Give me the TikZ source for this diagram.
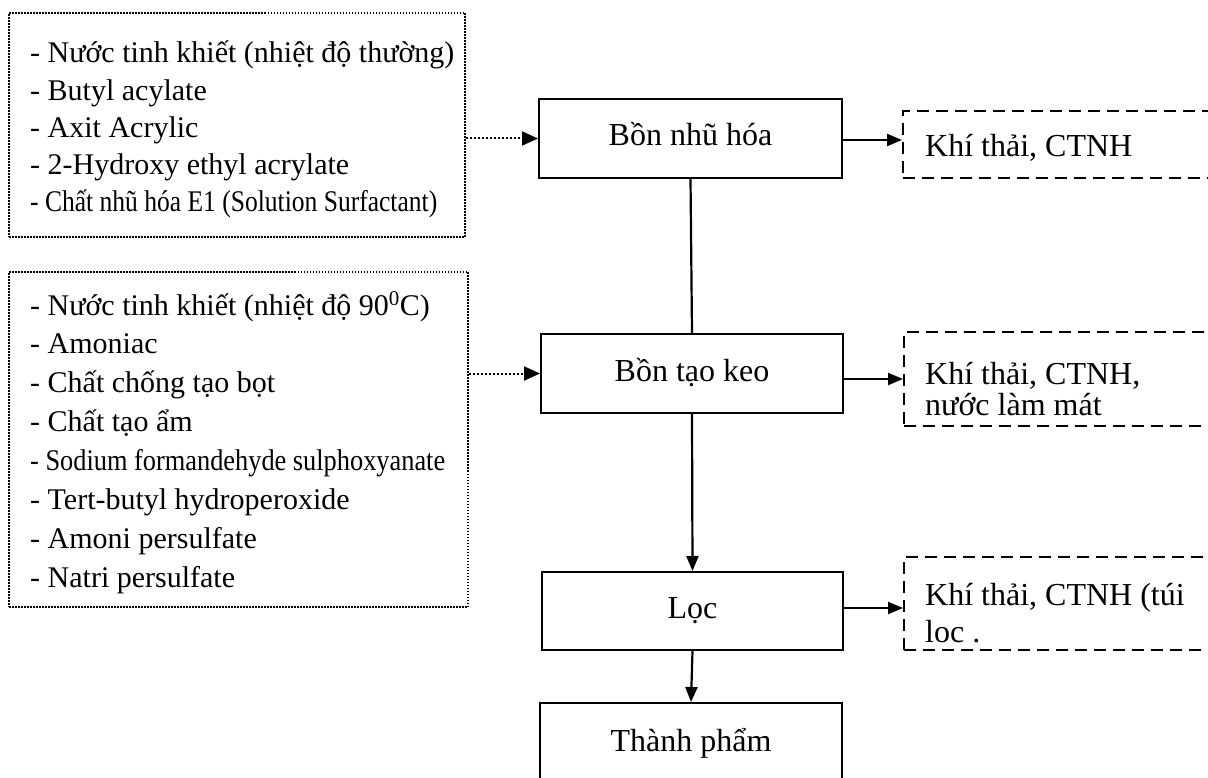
\documentclass[tikz,border=0pt]{standalone}
\usepackage{fontspec}
\setmainfont{Liberation Serif}
\usetikzlibrary{arrows.meta}
\begin{document}
\begin{tikzpicture}[x=1pt,y=-1pt,
  every node/.style={font=\fontsize{32}{38}\selectfont},
  stage/.style={draw, line width=2pt, rectangle, inner sep=0pt, text height=22pt, text depth=7pt},
  wastebox/.style={draw, line width=2pt, dash pattern=on 12pt off 7pt, rectangle, inner sep=0pt},
  inputbox/.style={draw, line width=1.6pt, dash pattern=on 1.5pt off 1.5pt, rectangle, inner sep=0pt},
  flow/.style={line width=2.2pt, -{Triangle[length=15pt,width=12pt]}},
  feed/.style={line width=2pt, dash pattern=on 2pt off 2pt, -{Triangle[length=16pt,width=14pt]}},
  listtext/.style={anchor=base west, inner sep=0pt}
]
\clip (0,0) rectangle (1208,778);
\fill[white] (0,0) rectangle (1208,778);

% raw material boxes (dotted)
\node[inputbox, minimum width=456pt, minimum height=224pt] (in1) at (237,125) {};
\node[inputbox, minimum width=459pt, minimum height=335pt] (in2) at (238.5,439.5) {};

\node[listtext] (in1t) at (30,63) {\parbox[t]{440pt}{\fontsize{30}{37.25}\selectfont\lineskiplimit=-100pt
- Nước tinh khiết (nhiệt độ thường)\\
- Butyl acylate\\
- Axit Acrylic\\
- 2-Hydroxy ethyl acrylate\\
\resizebox{407pt}{\height}{- Chất nhũ hóa E1 (Solution Surfactant)}}};

\node[listtext] (in2t) at (30,315) {\parbox[t]{440pt}{\fontsize{30}{38.9}\selectfont\lineskiplimit=-100pt
- Nước tinh khiết (nhiệt độ 90\textsuperscript{0}C)\\
- Amoniac\\
- Chất chống tạo bọt\\
- Chất tạo ẩm\\
\resizebox{415pt}{\height}{- Sodium formandehyde sulphoxyanate}\\
- Tert-butyl hydroperoxide\\
- Amoni persulfate\\
- Natri persulfate}};

% process stages
\node[stage, minimum width=303pt, minimum height=79pt] (bon1) at (690.5,138.5) {Bồn nhũ hóa};
\node[stage, minimum width=302pt, minimum height=79pt] (bon2) at (692,373.5) {Bồn tạo keo};
\node[stage, minimum width=301pt, minimum height=78pt] (loc) at (692.5,611) {Lọc};
\node[stage, minimum width=302pt, minimum height=81pt] (tp) at (691,743.5) {Thành phẩm};

% waste boxes (dashed, running off the right edge)
\node[wastebox, minimum width=350pt, minimum height=67pt] (w1) at (1078,144.5) {};
\node[wastebox, minimum width=350pt, minimum height=94pt] (w2) at (1079,379) {};
\node[wastebox, minimum width=350pt, minimum height=93pt] (w3) at (1079,603.5) {};

\node[listtext] (w1t) at (925,157) {Khí thải, CTNH};
\node[listtext] (w2t) at (925,384) {\parbox[t]{280pt}{\fontsize{32}{31}\selectfont\lineskiplimit=-100pt
Khí thải, CTNH,\\nước làm mát}};
\node[listtext] (w3t) at (925,605) {\parbox[t]{280pt}{\fontsize{32}{37}\selectfont\lineskiplimit=-100pt
Khí thải, CTNH (túi\\loc .}};

% connectors
\draw[feed] (in1.east |- bon1.west) -- (bon1.west);
\draw[feed] (in2.east |- bon2.west) -- (bon2.west);

\draw[line width=2.2pt] (bon1.south) -- (bon2.north);
\draw[flow] (bon2.south) -- (loc.north);
\draw[flow] (loc.south) -- (tp.north);

\draw[flow] ([yshift=-1.5pt]bon1.east) -- ([yshift=-1.5pt]bon1.east -| w1.west);
\draw[flow] ([yshift=-5.5pt]bon2.east) -- ([yshift=-5.5pt]bon2.east -| w2.west);
\draw[flow] ([yshift=3pt]loc.east) -- ([yshift=3pt]loc.east -| w3.west);
\end{tikzpicture}
\end{document}
